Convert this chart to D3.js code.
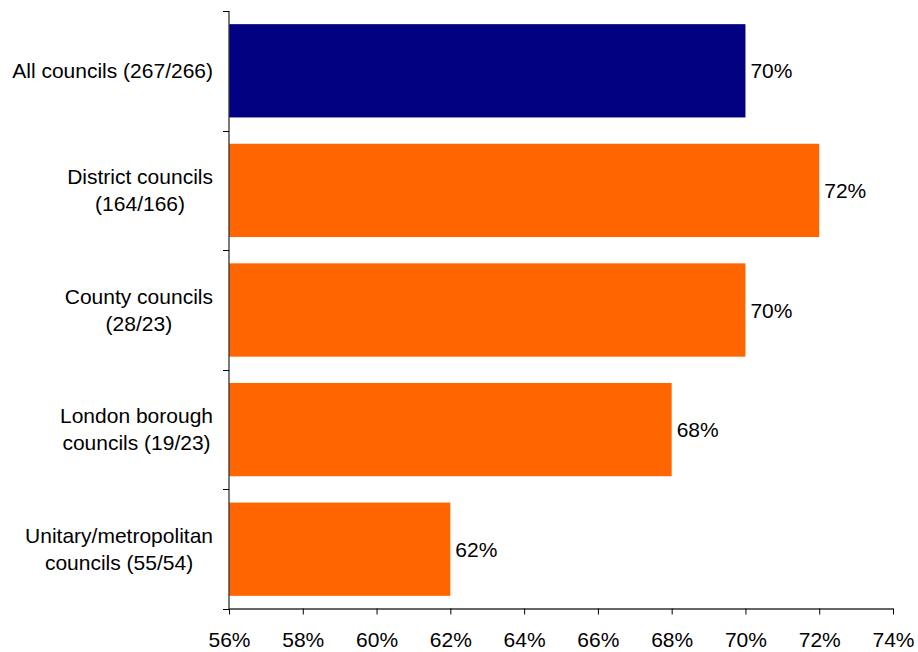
<!DOCTYPE html>
<html>
<head>
<meta charset="utf-8">
<script src="https://cdn.jsdelivr.net/npm/d3@7"></script>
<style>
  body { margin: 0; background: #fff; }
  svg { display: block; font-family: "Liberation Sans", Arial, sans-serif; }
</style>
</head>
<body>
<svg width="918" height="652"></svg>
<script>
// data
const categorias = ["All councils", "District councils", "County councils", "London borough councils", "Unitary/metropolitan councils"];
const rotulos = [
    ["All councils (267/266)"],
    ["District councils", "(164/166)"],
    ["County councils", "(28/23)"],
    ["London borough", "councils (19/23)"],
    ["Unitary/metropolitan", "councils (55/54)"]
];
const valores = [70, 72, 70, 68, 62];
const cores = ["#000080", "#FF6600", "#FF6600", "#FF6600", "#FF6600"];
const ticksX = [56, 58, 60, 62, 64, 66, 68, 70, 72, 74];

const svg = d3.select("svg");

const xScale = d3.scaleLinear().domain([56, 74]).range([229, 893]);
const yScale = d3.scaleBand()
    .domain(categorias)
    .range([11, 609])
    .paddingInner(0.22)
    .paddingOuter(0.11);

// barras
svg.selectAll(".bar")
    .data(categorias)
    .enter()
    .append("rect")
    .attr("class", "bar")
    .attr("x", xScale(56))
    .attr("y", d => yScale(d))
    .attr("width", (d, i) => xScale(valores[i]) - xScale(56))
    .attr("height", yScale.bandwidth())
    .attr("fill", (d, i) => cores[i]);

// eixo x
const eixoX = svg.append("g")
    .attr("transform", "translate(0,608.5)")
    .call(d3.axisBottom(xScale)
        .tickValues(ticksX)
        .tickFormat(d => d + "%")
        .tickSize(6)
        .tickSizeOuter(0)
        .tickPadding(18));
eixoX.select(".domain").attr("stroke", "#333").attr("stroke-width", 1.3);
eixoX.selectAll(".tick line").attr("stroke", "#000");
eixoX.selectAll("text")
    .attr("font-size", 21)
    .attr("font-family", "Liberation Sans, Arial, sans-serif")
    .attr("fill", "#000");

// eixo y (linha e ticks nos limites das categorias)
svg.append("line")
    .attr("x1", 229).attr("x2", 229)
    .attr("y1", 11).attr("y2", 609)
    .attr("stroke", "#333")
    .attr("stroke-width", 1.3);

const passo = yScale.step();
const limites = categorias.map(c => yScale(c) - passo * yScale.paddingInner() / 2);
limites.push(609);
svg.selectAll(".ytick")
    .data(limites)
    .enter()
    .append("line")
    .attr("class", "ytick")
    .attr("x1", 223).attr("x2", 229)
    .attr("y1", d => Math.round(d) + 0.5)
    .attr("y2", d => Math.round(d) + 0.5)
    .attr("stroke", "#000");

// rótulos das categorias (centralizados num bloco alinhado à direita)
const alturaLinha = 27;
categorias.forEach((c, i) => {
    const centro = yScale(c) + yScale.bandwidth() / 2;
    const linhas = rotulos[i];
    const g = svg.append("g");
    const textos = linhas.map((l, j) => g.append("text")
        .attr("y", centro + 7 + (j - (linhas.length - 1) / 2) * alturaLinha)
        .attr("font-size", 21)
        .attr("text-anchor", "middle")
        .attr("fill", "#000")
        .text(l));
    const larguraMax = d3.max(textos, t => t.node().getComputedTextLength());
    textos.forEach(t => t.attr("x", 213 - larguraMax / 2));
});

// rótulos de valor
svg.selectAll(".valor")
    .data(categorias)
    .enter()
    .append("text")
    .attr("class", "valor")
    .attr("x", (d, i) => xScale(valores[i]) + 5)
    .attr("y", d => yScale(d) + yScale.bandwidth() / 2 + 7.5)
    .attr("font-size", 21)
    .attr("fill", "#000")
    .text((d, i) => valores[i] + "%");
</script>
</body>
</html>
